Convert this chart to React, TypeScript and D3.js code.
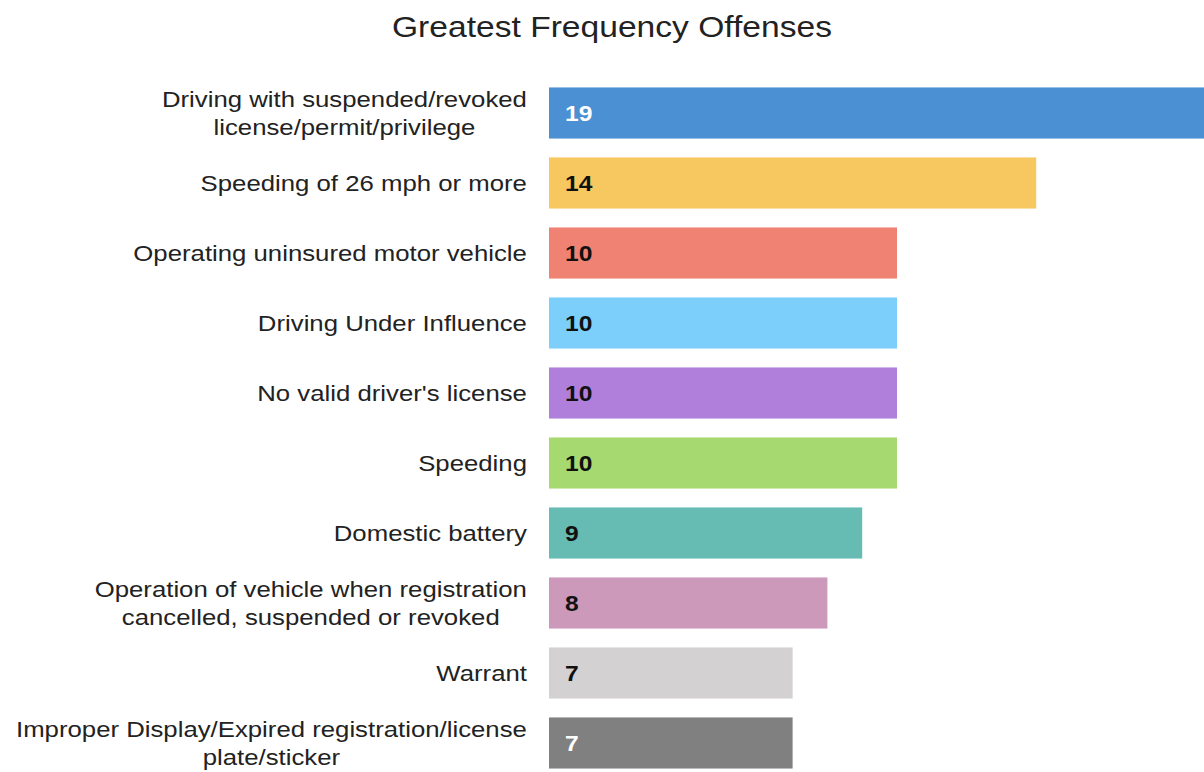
import React, { useEffect } from 'react';
import * as d3 from 'd3';

const offenses: string[][] = [
  ['Driving with suspended/revoked', 'license/permit/privilege'],
  ['Speeding of 26 mph or more'],
  ['Operating uninsured motor vehicle'],
  ['Driving Under Influence'],
  ["No valid driver's license"],
  ['Speeding'],
  ['Domestic battery'],
  ['Operation of vehicle when registration', 'cancelled, suspended or revoked'],
  ['Warrant'],
  ['Improper Display/Expired registration/license', 'plate/sticker'],
];
const counts = [19, 14, 10, 10, 10, 10, 9, 8, 7, 7];
const barColors = [
  '#4a90d2', '#f6c85f', '#ef8272', '#7bcffa', '#b07fdc',
  '#a7d971', '#66bcb3', '#cc99bb', '#d3d1d1', '#808080',
];
const valueColors = ['#ffffff', '#111', '#111', '#111', '#111', '#111', '#111', '#111', '#111', '#ffffff'];

const W = 1204;
const H = 772;
const FONT = "'Liberation Sans', Arial, sans-serif";
const LABEL_SIZE = 23;
const LABEL_RIGHT = 527;
const SX = 1.12; // the source text is a little wider than plain Arial

let ctx: CanvasRenderingContext2D | null = null;
function textWidth(s: string, size: number) {
  if (!ctx) ctx = document.createElement('canvas').getContext('2d');
  if (!ctx) return s.length * size * 0.5;
  ctx.font = `${size}px ${FONT}`;
  return ctx.measureText(s).width;
}

const stretch = (px: number) => `translate(${px},0) scale(${SX},1) translate(${-px},0)`;

export default function App() {
  useEffect(() => {
    document.body.style.margin = '0';
  }, []);

  const x = d3.scaleLinear().domain([0, 10]).range([549, 897]);
  const y = d3
    .scaleBand<number>()
    .domain(d3.range(counts.length))
    .range([78, 778])
    .paddingInner(0.27)
    .paddingOuter(0.135);
  const bw = y.bandwidth();

  return (
    <svg width={W} height={H} style={{ display: 'block', background: '#fff' }}>
      <g transform={stretch(612)}>
        <text x={612} y={37} textAnchor="middle" fontFamily={FONT} fontSize={30} fill="#222">
          Greatest Frequency Offenses
        </text>
      </g>
      {counts.map((v, i) => {
        const cy = (y(i) ?? 0) + bw / 2;
        const lines = offenses[i];
        const lh = 28;
        const maxW = d3.max(lines, (l) => textWidth(l, LABEL_SIZE)) ?? 0;
        const cx = LABEL_RIGHT - maxW / 2;
        return (
          <g key={i}>
            <rect x={x(0)} y={y(i)} width={x(v) - x(0)} height={bw} fill={barColors[i]} />
            <g transform={stretch(565)}>
              <text
                x={565}
                y={cy}
                dy="0.36em"
                fontFamily={FONT}
                fontSize={22}
                fontWeight="bold"
                fill={valueColors[i]}
              >
                {v}
              </text>
            </g>
            <g transform={stretch(LABEL_RIGHT)}>
              <text fontFamily={FONT} fontSize={LABEL_SIZE} fill="#222" textAnchor="middle">
                {lines.map((ln, j) => (
                  <tspan key={j} x={cx} y={cy + (j - (lines.length - 1) / 2) * lh} dy="0.36em">
                    {ln}
                  </tspan>
                ))}
              </text>
            </g>
          </g>
        );
      })}
    </svg>
  );
}
